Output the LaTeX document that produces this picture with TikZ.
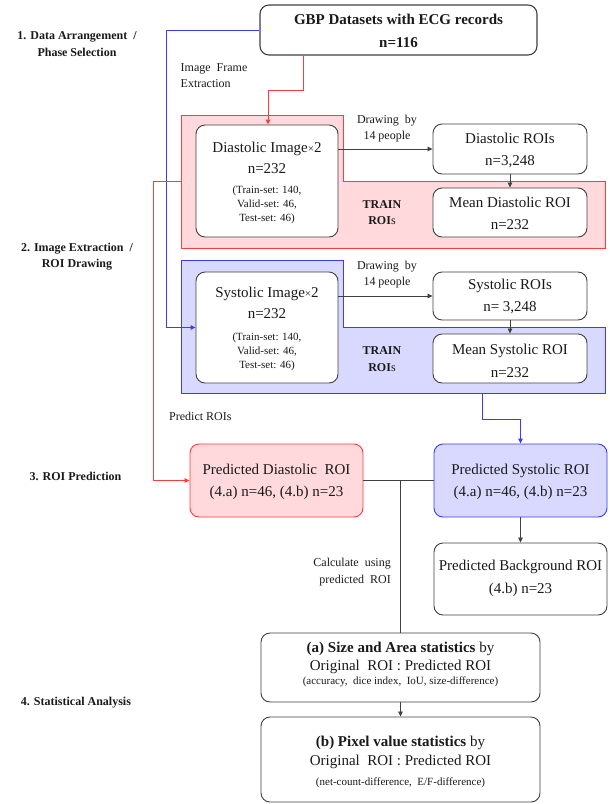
\documentclass[tikz,border=0pt]{standalone}
\usepackage{fontspec}
\setmainfont{Liberation Serif}
\usetikzlibrary{arrows.meta}
\definecolor{rfill}{HTML}{FFD9DB}
\definecolor{rline}{HTML}{FF3B3B}
\definecolor{bfill}{HTML}{D9D9FF}
\definecolor{bline}{HTML}{3B3BFF}
\definecolor{bord}{HTML}{404040}
\definecolor{ink}{HTML}{1A1A1A}
\tikzset{
  box/.style={draw=bord, line width=0.9pt, rounded corners=9pt, fill=white, inner sep=0pt},
  big/.style={font=\fontsize{15}{21}\selectfont, align=center, inner sep=0pt, text=ink},
  sm/.style={font=\fontsize{11}{14}\selectfont, align=center, inner sep=0pt, text=ink},
  lbl/.style={font=\fontsize{12}{16}\selectfont, inner sep=0pt, text=ink},
  sec/.style={font=\bfseries\fontsize{12}{17}\selectfont, align=center, inner sep=0pt, text=ink},
  tip/.style={-{Triangle[length=5pt,width=4.5pt]}},
  blk/.style={draw=bord, line width=0.8pt},
  redc/.style={draw=rline, line width=0.9pt},
  bluc/.style={draw=bline, line width=0.9pt},
}
\begin{document}
\begin{tikzpicture}[x=1pt,y=-1pt]
\useasboundingbox (0,0) rectangle (610,804);

% section labels
\node[sec] (lab1) at (77,44.5) {1. Data Arrangement~~/\\Phase Selection};
\node[sec,font=\bfseries\fontsize{12}{16}\selectfont] (lab2) at (77,257) {2. Image Extraction~~/\\ROI Drawing};
\node[sec] (lab3) at (75.5,476) {3. ROI Prediction};
\node[sec] (lab4) at (76,703) {4. Statistical Analysis};

% regions
\path[fill=rfill, draw=rline, line width=0.9pt]
  (181,115) -- (343,115) -- (343,181) -- (605,181) -- (605,248) -- (181,248) -- cycle;
\path[fill=bfill, draw=bline, line width=0.9pt]
  (181,260) -- (343,260) -- (343,327) -- (605,327) -- (605,393) -- (181,393) -- cycle;
\coordinate (rexit) at (181,181);
\coordinate (bexit) at (482,393);

% top box
\node[box, line width=1.1pt, minimum width=277pt, minimum height=50pt] (gbp) at (398.5,30) {};
\node[big, font=\bfseries\fontsize{15}{23}\selectfont] (gbpt) at (398.5,30.5) {GBP Datasets with ECG records\\n=116};

\node[lbl, align=left, font=\fontsize{12}{16}\selectfont] (ife) at (214,76) {Image~ Frame\\Extraction};

% diastolic
\node[box, minimum width=142pt, minimum height=112pt] (dimg) at (267,181) {};
\node[big] (dimgt) at (267,157.5) {Diastolic Image{\fontsize{11}{11}\selectfont×}2\\n=232};
\node[sm] (dimgs) at (267,205) {(Train-set: 140,\\Valid-set: 46,\\Test-set: 46)};
\node[box, minimum width=154pt, minimum height=50pt] (droi) at (510,149) {};
\node[big, font=\fontsize{15}{22}\selectfont] (droit) at (510,150) {Diastolic ROIs\\n=3,248};
\node[box, minimum width=154pt, minimum height=49pt] (dmean) at (510,212.5) {};
\node[big, font=\fontsize{15}{22}\selectfont] (dmeant) at (510,213) {Mean Diastolic ROI\\n=232};
\node[lbl, align=center] (draw1) at (387,129) {Drawing~ by\\14 people};
\node[sec, font=\bfseries\fontsize{12}{16}\selectfont] (tr1) at (382,213) {TRAIN\\ROI{\mdseries s}};

% systolic
\node[box, minimum width=142pt, minimum height=111pt] (simg) at (267,327.5) {};
\node[big] (simgt) at (267,302.5) {Systolic Image{\fontsize{11}{11}\selectfont×}2\\n=232};
\node[sm] (simgs) at (267,352) {(Train-set: 140,\\Valid-set: 46,\\Test-set: 46)};
\node[box, minimum width=154pt, minimum height=48pt] (sroi) at (510,296) {};
\node[big, font=\fontsize{15}{22}\selectfont] (sroit) at (510,296) {Systolic ROIs\\n= 3,248};
\node[box, minimum width=154pt, minimum height=49pt] (smean) at (510,358.5) {};
\node[big, font=\fontsize{15}{23}\selectfont] (smeant) at (510,360.5) {Mean Systolic ROI\\n=232};
\node[lbl, align=center] (draw2) at (387,275) {Drawing~ by\\14 people};
\node[sec, font=\bfseries\fontsize{12}{17}\selectfont] (tr2) at (382,359.5) {TRAIN\\ROI{\mdseries s}};

% prediction
\node[lbl, anchor=west] (pr) at (169,416) {Predict ROIs};
\node[box, draw=rline, fill=rfill, minimum width=173pt, minimum height=73pt] (pdia) at (276.5,480.5) {};
\node[big, font=\fontsize{15}{22}\selectfont] (pdiat) at (276.5,482) {Predicted Diastolic~ ROI\\(4.a) n=46, (4.b) n=23};
\node[box, draw=bline, fill=bfill, minimum width=173pt, minimum height=73pt] (psys) at (520.5,480.5) {};
\node[big, font=\fontsize{15}{22}\selectfont] (psyst) at (520.5,482) {Predicted Systolic ROI\\(4.a) n=46, (4.b) n=23};
\node[box, minimum width=173pt, minimum height=72pt] (pbg) at (520.5,579) {};
\node[big, font=\fontsize{15}{23}\selectfont] (pbgt) at (520.5,578.5) {Predicted Background ROI\\(4.b) n=23};
\node[lbl, align=right, anchor=east, font=\fontsize{12}{17}\selectfont] (calc) at (391,572.5) {Calculate~ using\\predicted~ ROI};

% statistics
\node[box, minimum width=279pt, minimum height=69pt] (sa) at (400.5,667.5) {};
\node[big, font=\fontsize{15}{18}\selectfont] (sat) at (400.5,658) {\textbf{(a) Size and Area statistics} by\\Original~ ROI : Predicted ROI};
\node[sm] (sas) at (400.5,682) {(accuracy,~ dice index,~ IoU, size-difference)};
\node[box, minimum width=279pt, minimum height=85pt] (sb) at (400.5,759.5) {};
\node[big, font=\fontsize{15}{19}\selectfont] (sbt) at (400.5,752.5) {\textbf{(b) Pixel value statistics} by\\Original~ ROI : Predicted ROI};
\node[sm] (sbs) at (400.5,783) {(net-count-difference,~ E/F-difference)};

% connectors
\draw[redc, tip] ([xshift=-95.5pt]gbp.south) -- ++(0,35) -| ([xshift=1pt]dimg.north);
\draw[bluc, tip] (gbp.west) -| ([xshift=-29pt]simg.west) -- (simg.west);
\draw[blk, tip] (dimg.east |- droi.west) -- (droi.west);
\draw[blk, tip] (droi.south) -- (dmean.north);
\draw[blk, tip] (simg.east |- sroi.west) -- (sroi.west);
\draw[blk, tip] (sroi.south) -- (smean.north);
\draw[redc, tip] (rexit) -- (153,181) |- (pdia.west);
\draw[bluc, tip] (bexit) -- (482,419) -| (psys.north);
\draw[blk] (pdia.east) -- (psys.west);
\coordinate (jn) at (sa.north |- pdia.east);
\draw[blk] (jn) -- (sa.north);
\draw[blk, tip] (psys.south) -- (pbg.north);
\draw[blk, tip] (sa.south) -- (sb.north);
\end{tikzpicture}
\end{document}
